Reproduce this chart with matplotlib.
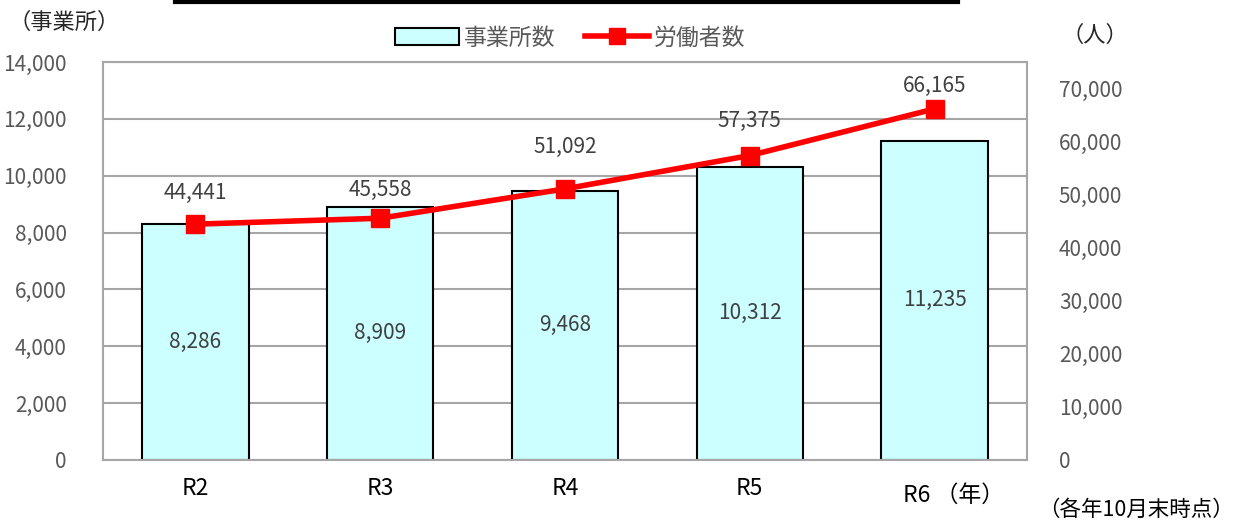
import matplotlib
matplotlib.use("Agg")
import matplotlib.pyplot as plt
from matplotlib.lines import Line2D
from matplotlib.patches import Patch
import matplotlib.transforms as mtransforms

plt.rcParams['font.family'] = ['Noto Sans CJK JP', 'DejaVu Sans']

categories = ["R2", "R3", "R4", "R5", "R6"]
establishments = [8286, 8909, 9468, 10312, 11235]
workers = [44441, 45558, 51092, 57375, 66165]
left_ticks = [0, 2000, 4000, 6000, 8000, 10000, 12000, 14000]
right_ticks = [0, 10000, 20000, 30000, 40000, 50000, 60000, 70000]
# vertical offsets (pixels) of the worker labels above their markers
label_offsets = [31, 28, 42, 35, 23]

GRAY_TXT = "#595959"
LBL_TXT = "#404040"

fig = plt.figure(figsize=(12.38, 5.22), dpi=100)
ax = fig.add_axes([103/1238, 1-460/522, (1027-103)/1238, (460-62)/522])
x = list(range(len(categories)))

ax.set_axisbelow(True)
ax.yaxis.grid(True, color="#A6A6A6", lw=1.5)
ax.bar(x, establishments, width=0.575, color="#CCFFFF", edgecolor="black", lw=1.5, zorder=2)
ax.set_xlim(-0.5, 4.5)
ax.set_ylim(0, 14000)
ax.set_yticks(left_ticks)
ax.set_yticklabels([f"{v:,}" for v in left_ticks])
ax.tick_params(axis='y', length=0, pad=26, labelsize=15, labelcolor=GRAY_TXT)
ax.set_xticks(x)
ax.set_xticklabels(categories[:-1] + [""])
ax.tick_params(axis='x', length=0, pad=12, labelsize=16.5, labelcolor="black")
for s in ax.spines.values():
    s.set_color("#A6A6A6")
    s.set_linewidth(1.5)

for xi, v in zip(x, establishments):
    ax.text(xi, v/2, f"{v:,}", ha="center", va="center", fontsize=15, color=LBL_TXT, zorder=5)

trans = mtransforms.blended_transform_factory(ax.transData, fig.transFigure)
ax.text(4.1, 1-495/522, categories[-1] + " （年）", transform=trans, ha="center", va="center",
        fontsize=16.5, color="black")

ax2 = ax.twinx()
ax2.set_ylim(0, 75000)
ax2.set_yticks(right_ticks)
ax2.set_yticklabels([f"{v:,}" for v in right_ticks])
ax2.tick_params(axis='y', length=0, pad=23, labelsize=15, labelcolor=GRAY_TXT)
for s in ax2.spines.values():
    s.set_visible(False)
ax2.plot(x, workers, color="#FF0000", lw=4, marker="s", markersize=13, zorder=4)
for xi, v, off in zip(x, workers, label_offsets):
    ax2.annotate(f"{v:,}", (xi, v), xytext=(0, off), textcoords="offset pixels",
                 ha="center", va="center", fontsize=15, color=LBL_TXT)

fig.text(8/1238, 1-22/522, "（事業所）", ha="left", va="center", fontsize=16, color="#262626")
fig.text(1095/1238, 1-35/522, "（人）", ha="center", va="center", fontsize=16, color="#262626")
fig.text(1234/1238, 1-510/522, "（各年10月末時点）", ha="right", va="center", fontsize=15.5, color="black")

fig.add_artist(Line2D([175/1238, 958/1238], [1-2/522, 1-2/522], color="black", lw=3, transform=fig.transFigure))

handles = [Patch(facecolor="#CCFFFF", edgecolor="black", lw=1.5, label="事業所数"),
           Line2D([0], [0], color="#FF0000", lw=4, marker="s", markersize=11, label="労働者数")]
leg = fig.legend(handles=handles, loc="center", bbox_to_anchor=(570/1238, 1-38/522), ncol=2,
                 frameon=False, fontsize=16.5, handlelength=2.8, handletextpad=0.2, columnspacing=1.3)
for t in leg.get_texts():
    t.set_color(GRAY_TXT)

fig.savefig("out.png", dpi=100)
